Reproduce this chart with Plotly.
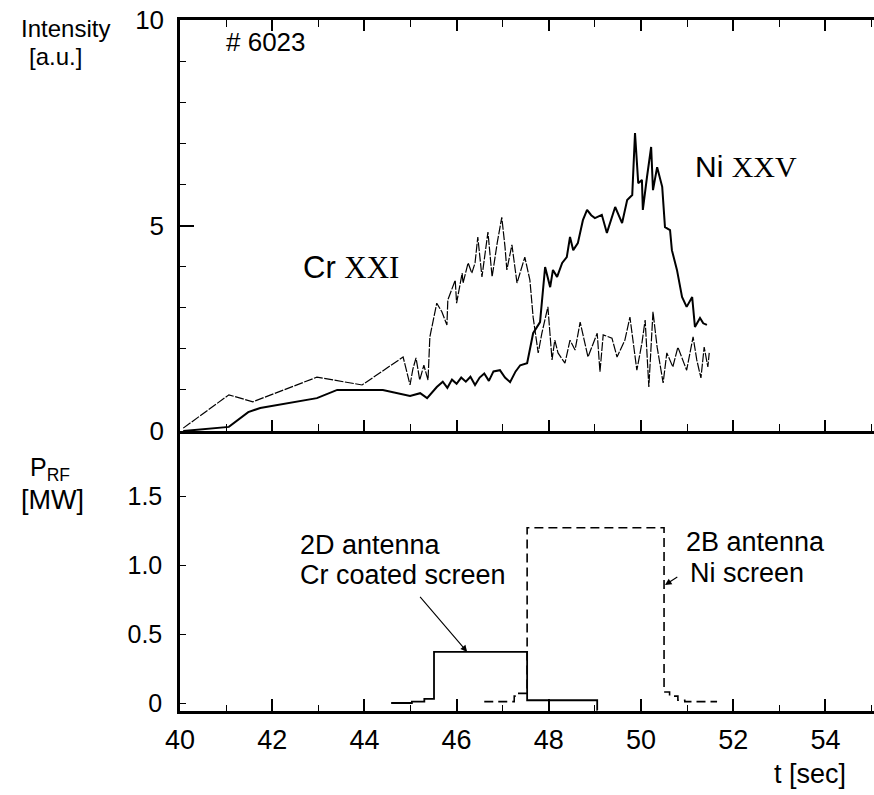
import plotly.graph_objects as go

# ---------------- data ----------------
# Ni XXV intensity (solid, upper panel)
t_ni = [40.07, 41.06, 41.48, 41.74, 42.97, 43.41, 44.40, 44.99, 45.21, 45.36, 45.57,
        45.70, 45.80, 45.90, 46.00, 46.10, 46.20, 46.30, 46.40, 46.50, 46.60, 46.70,
        46.80, 46.94, 47.05, 47.16, 47.28, 47.38, 47.53, 47.66, 47.81, 47.92, 48.03,
        48.09, 48.18, 48.29, 48.39, 48.46, 48.53, 48.63, 48.74, 48.83, 48.92, 49.00,
        49.15, 49.26, 49.44, 49.59, 49.70, 49.81, 49.87, 49.94, 50.02, 50.04, 50.13,
        50.22, 50.26, 50.35, 50.46, 50.52, 50.63, 50.67, 50.78, 50.89, 50.99, 51.11,
        51.17, 51.28, 51.35, 51.43]
i_ni = [0.00, 0.10, 0.46, 0.56, 0.80, 1.00, 1.00, 0.85, 0.92, 0.80, 1.07,
        1.20, 1.05, 1.25, 1.15, 1.30, 1.20, 1.32, 1.12, 1.30, 1.40, 1.22,
        1.45, 1.48, 1.30, 1.19, 1.45, 1.60, 1.65, 2.38, 2.65, 3.99, 3.50,
        3.92, 3.75, 4.09, 4.23, 4.72, 4.40, 4.57, 5.13, 5.38, 5.25, 5.18,
        5.26, 4.82, 5.45, 5.06, 5.62, 5.74, 7.25, 6.03, 6.11, 5.38, 6.18,
        6.91, 5.86, 6.42, 5.94, 4.96, 4.89, 4.40, 3.92, 3.26, 3.02, 3.26,
        2.53, 2.75, 2.62, 2.58]

# Cr XXI intensity (thin broken line, upper panel)
t_cr = [40.07, 41.06, 41.58, 42.97, 43.95, 44.84, 44.99, 45.05, 45.12, 45.20, 45.29,
        45.38, 45.42, 45.57, 45.68, 45.79, 45.81, 45.97, 46.00, 46.12, 46.14, 46.25,
        46.33, 46.40, 46.46, 46.55, 46.68, 46.77, 46.88, 46.98, 47.05, 47.09, 47.20,
        47.31, 47.48, 47.59, 47.66, 47.77, 47.85, 47.98, 48.07, 48.13, 48.20, 48.35,
        48.46, 48.57, 48.68, 48.85, 49.05, 49.11, 49.18, 49.37, 49.48, 49.65, 49.76,
        49.91, 50.02, 50.09, 50.17, 50.26, 50.35, 50.48, 50.56, 50.69, 50.80, 50.99,
        51.13, 51.21, 51.30, 51.37, 51.45, 51.48]
i_cr = [0.07, 0.88, 0.71, 1.31, 1.12, 1.80, 1.12, 1.50, 1.78, 1.24, 1.60,
        1.24, 2.29, 3.11, 2.90, 2.58, 3.19, 3.67, 3.11, 3.84, 3.60, 4.09,
        3.84, 4.09, 4.72, 3.75, 4.84, 3.75, 4.57, 5.20, 4.48, 3.92, 4.53,
        3.60, 4.23, 3.67, 2.77, 1.90, 2.38, 3.02, 1.73, 2.21, 1.90, 1.65,
        2.21, 1.97, 2.65, 1.80, 2.38, 1.44, 2.34, 2.26, 1.80, 2.21, 2.77,
        1.48, 2.14, 2.70, 1.07, 2.90, 2.04, 1.17, 1.90, 1.56, 2.04, 1.48,
        2.29, 1.73, 1.29, 2.04, 1.56, 1.90]

# RF power, 2D antenna (Cr coated screen), solid, step
t_2d = [44.58, 45.03, 45.30, 45.51, 47.53, 49.05, 49.06]
p_2d = [0.00, 0.01, 0.03, 0.37, 0.02, -0.05, -0.05]

# RF power, 2B antenna (Ni screen), dashed, step
t_2b = [46.60, 47.25, 47.35, 47.53, 50.50, 50.62, 50.80, 50.95, 51.65]
p_2b = [0.01, 0.05, 0.07, 1.27, 0.08, 0.05, 0.02, 0.01, 0.01]

t_ticks = [40, 42, 44, 46, 48, 50, 52, 54]
t_minor = [41, 43, 45, 47, 49, 51, 53, 55]
int_ticks = [0, 5, 10]
int_ticktext = ["0", "5", "10"]
int_minor = [1, 2, 3, 4, 6, 7, 8, 9]
prf_ticks = [0, 0.5, 1.0, 1.5]
prf_ticktext = ["0", "0.5", "1.0", "1.5"]

# ---------------- layout geometry ----------------
W, H = 874, 795
L, R, T, B = 180, 0, 20, 84
PW, PH = W - L - R, H - T - B
SPLIT = (711 - 431) / PH  # bottom panel fraction


def px(xp, yp):
    return (xp - L) / PW, (H - B - yp) / PH


FONT = "Liberation Sans, Arial, Helvetica, sans-serif"

fig = go.Figure()

fig.add_trace(go.Scatter(x=t_cr, y=i_cr, xaxis="x2", yaxis="y2", mode="lines",
                         line=dict(color="black", width=1.2, dash="9px,1.5px"),
                         showlegend=False, hoverinfo="skip"))
fig.add_trace(go.Scatter(x=t_ni, y=i_ni, xaxis="x2", yaxis="y2", mode="lines",
                         line=dict(color="black", width=2.0),
                         showlegend=False, hoverinfo="skip"))
fig.add_trace(go.Scatter(x=t_2d, y=p_2d, xaxis="x", yaxis="y", mode="lines",
                         line=dict(color="black", width=1.8, shape="hv"),
                         showlegend=False, hoverinfo="skip"))
fig.add_trace(go.Scatter(x=t_2b, y=p_2b, xaxis="x", yaxis="y", mode="lines",
                         line=dict(color="black", width=1.6, shape="hv", dash="9px,5px"),
                         showlegend=False, hoverinfo="skip"))

xr = [40, 40 + PW / 46.1]

fig.update_layout(
    width=W, height=H,
    margin=dict(l=L, r=R, t=T, b=B, pad=0),
    paper_bgcolor="white", plot_bgcolor="white",
    font=dict(family=FONT, color="black", size=24),
    xaxis=dict(domain=[0, 1], anchor="y", range=xr, showgrid=False, zeroline=False,
               showline=True, linewidth=2.5, linecolor="black",
               ticks="inside", tickvals=t_ticks, ticklen=12, tickwidth=1.5,
               tickcolor="black", tickfont=dict(size=27), ticklabelstandoff=3,
               minor=dict(tickvals=t_minor, ticks="inside", ticklen=6, tickwidth=1.3,
                          tickcolor="black")),
    yaxis=dict(domain=[0, SPLIT], anchor="x", range=[-0.058, 1.971], showgrid=False,
               zeroline=False, showline=True, linewidth=2.5, linecolor="black",
               ticks="inside", tickvals=prf_ticks, ticktext=prf_ticktext, ticklen=6,
               tickwidth=1.3, tickcolor="black", tickfont=dict(size=25),
               ticklabelstandoff=10),
    yaxis3=dict(overlaying="y", side="right", anchor="x", range=[-0.058, 1.971],
                showgrid=False, zeroline=False, showline=False, ticks="inside",
                tickvals=prf_ticks, ticklen=6, tickwidth=1.3, tickcolor="black",
                showticklabels=False),
    xaxis2=dict(domain=[0, 1], anchor="y2", matches="x", range=xr, showgrid=False,
                zeroline=False, showline=True, linewidth=2.5, linecolor="black",
                mirror="ticks", ticks="inside", tickvals=t_ticks, ticklen=11,
                tickwidth=1.5, tickcolor="black", showticklabels=False,
                minor=dict(tickvals=t_minor, ticks="inside", ticklen=7, tickwidth=1.3,
                           tickcolor="black")),
    yaxis2=dict(domain=[SPLIT, 1], anchor="x2", range=[0, 10], showgrid=False,
                zeroline=False, showline=True, linewidth=2.5, linecolor="black",
                ticks="inside", tickvals=int_ticks, ticktext=int_ticktext, ticklen=14,
                tickwidth=1.5, tickcolor="black", tickfont=dict(size=26),
                ticklabelstandoff=8,
                minor=dict(tickvals=int_minor, ticks="inside", ticklen=6, tickwidth=1.2,
                           tickcolor="black")),
)

ann = []


def text(s, xp, yp, size=24, xanchor="left", yanchor="middle"):
    x, y = px(xp, yp)
    ann.append(dict(text=s, x=x, y=y, xref="paper", yref="paper", showarrow=False,
                    xanchor=xanchor, yanchor=yanchor, font=dict(size=size, family=FONT)))


text("Intensity", 19, 29, 24)
text("[a.u.]", 27, 56, 24)
text("# 6023", 224, 42, 26)
text("Cr <span style=\"font-family:'Liberation Serif',serif\">XXI</span>", 301, 267, 31)
text("Ni <span style=\"font-family:'Liberation Serif',serif\">XXV</span>", 693, 167, 30)
text("P<sub>RF</sub>", 28, 469, 25)
text("[MW]", 19, 500, 27)
text("2D antenna", 298, 545, 27)
text("Cr coated screen", 298, 575, 27)
text("2B antenna", 684, 542, 27)
text("Ni screen", 688, 573, 27)
text("t [sec]", 772, 774, 27)

# arrows in data coordinates of bottom panel
ann.append(dict(x=46.23, y=0.37, ax=45.18, ay=0.78, xref="x", yref="y", axref="x",
                ayref="y", showarrow=True, arrowhead=2, arrowsize=1.2, arrowwidth=1.1,
                arrowcolor="black", text=""))
ann.append(dict(x=50.52, y=0.855, ax=50.82, ay=0.92, xref="x", yref="y", axref="x",
                ayref="y", showarrow=True, arrowhead=2, arrowsize=1.2, arrowwidth=1.1,
                arrowcolor="black", text=""))

fig.update_layout(annotations=ann)

fig.write_html("out.html")
